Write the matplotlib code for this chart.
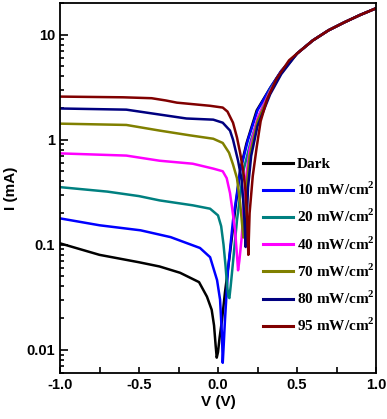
import numpy as np
import matplotlib
matplotlib.use('Agg')
import matplotlib.pyplot as plt
from matplotlib.ticker import FixedLocator, LogLocator, NullFormatter, MultipleLocator

# shared forward-bias tail (all curves merge)
V_tail = [0.5, 0.6, 0.7, 0.8, 0.9, 1.0]
I_tail = [6.6, 8.8, 11.0, 13.1, 15.4, 17.8]

V_dark = [-1.0, -0.75, -0.5, -0.37, -0.24, -0.12, -0.07, -0.04, -0.025, -0.015, -0.008,
          0.0, 0.01, 0.025, 0.044, 0.076, 0.108, 0.14, 0.18, 0.245, 0.33, 0.4]
I_dark = [0.103, 0.08, 0.068, 0.062, 0.054, 0.044, 0.032, 0.024, 0.017, 0.011, 0.0084,
          0.0095, 0.013, 0.019, 0.035, 0.083, 0.21, 0.51, 0.92, 1.9, 3.1, 4.5]

V_10 = [-1.0, -0.75, -0.49, -0.3, -0.114, -0.05, -0.006, 0.013, 0.025, 0.03, 0.036,
        0.044, 0.063, 0.095, 0.14, 0.19, 0.25, 0.33, 0.4]
I_10 = [0.178, 0.153, 0.137, 0.118, 0.093, 0.076, 0.046, 0.03, 0.014, 0.0075, 0.011,
        0.019, 0.057, 0.17, 0.5, 1.0, 1.9, 3.1, 4.5]

V_20 = [-1.0, -0.7, -0.5, -0.37, -0.16, -0.05, 0.0, 0.02, 0.035, 0.048, 0.058, 0.066, 0.072,
        0.08, 0.09, 0.12, 0.16, 0.21, 0.26, 0.33, 0.4]
I_20 = [0.353, 0.32, 0.29, 0.264, 0.237, 0.22, 0.19, 0.15, 0.1, 0.062, 0.04, 0.032, 0.031,
        0.04, 0.057, 0.17, 0.5, 1.0, 1.7, 3.0, 4.4]

V_40 = [-1.0, -0.58, -0.37, -0.16, -0.03, 0.03, 0.055, 0.076, 0.09, 0.108, 0.12, 0.127,
        0.135, 0.15, 0.17, 0.2, 0.25, 0.33, 0.4]
I_40 = [0.74, 0.705, 0.63, 0.59, 0.53, 0.5, 0.43, 0.31, 0.22, 0.137, 0.08, 0.057,
        0.07, 0.117, 0.35, 0.8, 1.6, 2.9, 4.4]

V_70 = [-1.0, -0.58, -0.37, -0.18, -0.03, 0.03, 0.07, 0.095, 0.12, 0.14, 0.152, 0.16,
        0.168, 0.18, 0.2, 0.25, 0.33, 0.4]
I_70 = [1.42, 1.38, 1.22, 1.1, 1.02, 0.93, 0.75, 0.58, 0.43, 0.25, 0.16, 0.117,
        0.17, 0.35, 0.7, 1.5, 2.8, 4.3]

V_80 = [-1.0, -0.58, -0.2, -0.03, 0.03, 0.076, 0.095, 0.127, 0.15, 0.165, 0.175, 0.182,
        0.19, 0.21, 0.25, 0.33, 0.4]
I_80 = [1.98, 1.93, 1.59, 1.55, 1.45, 1.22, 1.0, 0.63, 0.41, 0.2, 0.095, 0.17,
        0.35, 0.7, 1.35, 2.7, 4.2]

V_95 = [-1.0, -0.6, -0.42, -0.33, -0.26, -0.05, 0.03, 0.06, 0.095, 0.12, 0.14, 0.16, 0.175,
        0.185, 0.192, 0.2, 0.22, 0.245, 0.27, 0.31, 0.37, 0.45]
I_95 = [2.57, 2.53, 2.48, 2.36, 2.25, 2.1, 2.02, 1.85, 1.45, 1.05, 0.75, 0.5, 0.32,
        0.17, 0.08, 0.2, 0.45, 0.85, 1.5, 2.4, 3.8, 5.7]

labels = ['Dark', r'10 mW/cm$^\mathbf{2}$', r'20 mW/cm$^\mathbf{2}$', r'40 mW/cm$^\mathbf{2}$',
          r'70 mW/cm$^\mathbf{2}$', r'80 mW/cm$^\mathbf{2}$', r'95 mW/cm$^\mathbf{2}$']
colors = ['#000000', '#0000ff', '#008080', '#ff00ff', '#808000', '#000080', '#800000']
curves = [(V_dark, I_dark), (V_10, I_10), (V_20, I_20), (V_40, I_40),
          (V_70, I_70), (V_80, I_80), (V_95, I_95)]

plt.rcParams['font.family'] = 'Liberation Sans'
plt.rcParams['font.weight'] = 'bold'
plt.rcParams['mathtext.fontset'] = 'custom'
plt.rcParams['mathtext.bf'] = 'Liberation Serif:bold'
plt.rcParams['mathtext.rm'] = 'Liberation Serif:bold'

fig = plt.figure(figsize=(3.87, 4.19), dpi=100)
ax = fig.add_axes([60/387, 1-373/419, 316/387, 370/419])

for (v, i), c, lab in zip(curves, colors, labels):
    ax.semilogy(list(v) + V_tail, list(i) + I_tail, color=c, lw=1.8, label=lab)

ax.set_xlim(-1.0, 1.0)
ax.set_ylim(0.006, 20)
ax.xaxis.set_major_locator(FixedLocator([-1.0, -0.5, 0.0, 0.5, 1.0]))
ax.xaxis.set_minor_locator(MultipleLocator(0.25))
ax.set_xticklabels(['-1.0', '-0.5', '0.0', '0.5', '1.0'])
ax.yaxis.set_major_locator(FixedLocator([0.01, 0.1, 1, 10]))
ax.set_yticklabels(['0.01', '0.1', '1', '10'])
ax.yaxis.set_minor_locator(LogLocator(base=10, subs=np.arange(2, 10)))
ax.yaxis.set_minor_formatter(NullFormatter())

ax.tick_params(which='both', direction='in', top=False, right=False, labelsize=10.5, width=1.2)
ax.tick_params(axis='y', which='major', length=6)
ax.tick_params(axis='y', which='minor', length=3)
ax.tick_params(axis='x', which='both', length=4)
for lab in ax.get_xticklabels() + ax.get_yticklabels():
    lab.set_fontweight('bold')
for s in ax.spines.values():
    s.set_linewidth(1.3)

ax.set_xlabel('V (V)', fontsize=11, fontweight='bold', labelpad=2)
ax.set_ylabel('I (mA)', fontsize=11, fontweight='bold', labelpad=6)

leg = ax.legend(loc='lower right', bbox_to_anchor=(1.025, 0.08), frameon=False,
                prop={'family': 'Liberation Serif', 'weight': 'bold', 'size': 11},
                handlelength=2.0, handletextpad=0.25, labelspacing=0.65, borderaxespad=0.2)
for line in leg.get_lines():
    line.set_linewidth(2.2)

fig.savefig('out.png', dpi=100)
